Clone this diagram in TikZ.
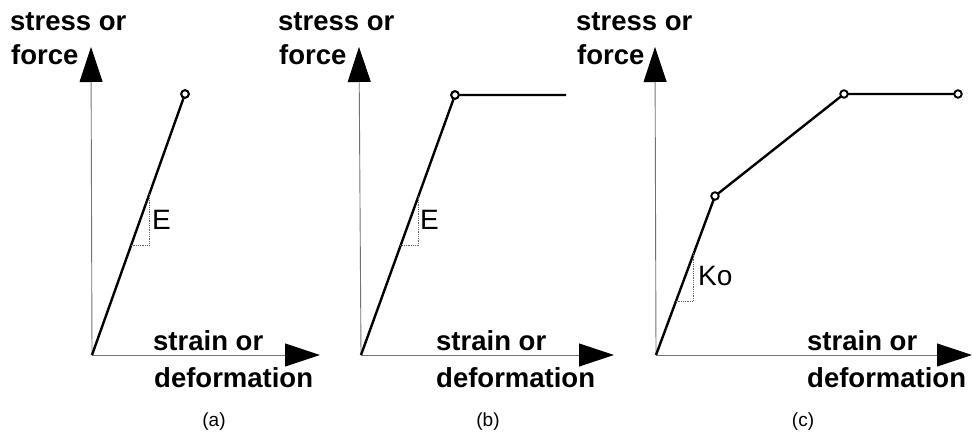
\documentclass[tikz,border=0pt]{standalone}
\usepackage{fontspec}
\setmainfont{Liberation Sans}
\usetikzlibrary{arrows.meta,calc}
\begin{document}
\begin{tikzpicture}[x=1pt,y=-1pt,
  axis/.style={draw=black!55,line width=0.9pt,-{Triangle[length=35pt,width=23pt,color=black]}},
  curve/.style={line width=2.4pt,line join=round},
  joint/.style={circle,draw,line width=1.9pt,fill=white,minimum size=7.5pt,inner sep=0pt},
  slope/.style={draw=black!60,line width=0.8pt,densely dotted},
  lab/.style={inner sep=0pt,anchor=base west,font=\fontsize{27.5}{30}\selectfont\bfseries},
  slab/.style={inner sep=0pt,anchor=base west,font=\fontsize{28}{30}\selectfont},
  subcap/.style={inner sep=0pt,font=\fontsize{19}{22}\selectfont}]
\useasboundingbox (0,0) rectangle (972,438);
% ---------- (a)
\coordinate (oa) at (92,355);
\coordinate (ya) at (91,47);
\coordinate (xa) at (320,355);
\draw[axis] (oa) -- (ya);
\draw[axis] (oa) -- (xa);
\node[joint] (pa) at (185,94) {};
\draw[curve] (oa) -- (pa);
\node[joint] at (pa) {};
\draw[slope] ($(oa)!0.615!(pa)$) |- ($(oa)!0.42!(pa)$);
\node[slab] (ea) at (152,230) {E};
\node[lab] (sa1) at (10,31) {stress or};
\node[lab] (sa2) at (11,65) {force};
\node[lab] (da1) at (153,350) {strain or};
\node[lab] (da2) at (154,387) {deformation};
\node[subcap] (ca) at (214,422) {(a)};
% ---------- (b)
\coordinate (ob) at (361,355);
\coordinate (yb) at (359,47);
\coordinate (xb) at (614,355);
\draw[axis] (ob) -- (yb);
\draw[axis] (ob) -- (xb);
\coordinate (eb) at (566,95);
\node[joint] (pb) at (455,95) {};
\draw[curve] (ob) -- (pb) -- (eb);
\node[joint] at (pb) {};
\draw[slope] ($(ob)!0.61!(pb)$) |- ($(ob)!0.42!(pb)$);
\node[slab] (eeb) at (420,230) {E};
\node[lab] (sb1) at (278,31) {stress or};
\node[lab] (sb2) at (279,65) {force};
\node[lab] (db1) at (436,350) {strain or};
\node[lab] (db2) at (436,387) {deformation};
\node[subcap] (cb) at (488,422) {(b)};
% ---------- (c)
\coordinate (oc) at (656,355);
\coordinate (yc) at (655,47);
\coordinate (xc) at (972,355);
\draw[axis] (oc) -- (yc);
\draw[axis] (oc) -- (xc);
\coordinate (q1) at (715,196);
\coordinate (q2) at (844,94);
\coordinate (q3) at (958,94);
\draw[curve] (oc) -- (q1) -- (q2) -- (q3);
\node[joint] (pc1) at (q1) {};
\node[joint] (pc2) at (q2) {};
\node[joint] (pc3) at (q3) {};
\draw[slope] ($(oc)!0.64!(q1)$) |- ($(oc)!0.34!(q1)$);
\node[slab] (ko) at (698,286) {Ko};
\node[lab] (sc1) at (576,31) {stress or};
\node[lab] (sc2) at (577,65) {force};
\node[lab] (dc1) at (807,350) {strain or};
\node[lab] (dc2) at (807,387) {deformation};
\node[subcap] (cc) at (803,422) {(c)};
\end{tikzpicture}
\end{document}
